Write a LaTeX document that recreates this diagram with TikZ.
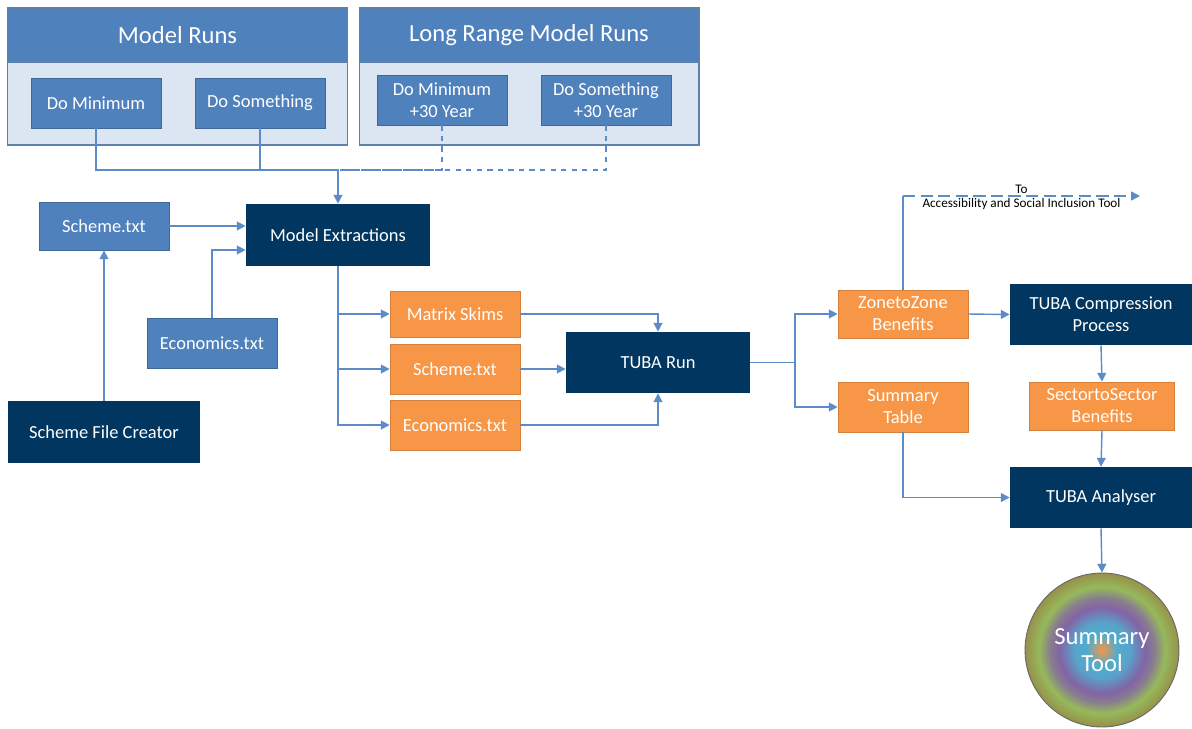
\documentclass[tikz,border=0pt]{standalone}
\usepackage{fontspec}
\setmainfont{Carlito}
\usetikzlibrary{arrows.meta,calc}

\definecolor{navy}{RGB}{0,54,96}
\definecolor{midblue}{RGB}{79,129,189}
\definecolor{paleblue}{RGB}{220,230,242}
\definecolor{lineblue}{RGB}{91,139,200}
\definecolor{boxorange}{RGB}{247,150,70}
\definecolor{ringcyan}{RGB}{80,172,205}
\definecolor{ringblue}{RGB}{100,150,200}
\definecolor{ringviolet}{RGB}{130,100,165}
\definecolor{ringgreen}{RGB}{150,185,90}
\definecolor{ringolive}{RGB}{150,145,75}

\pgfdeclareradialshading{toolshade}{\pgfpoint{0bp}{0bp}}{%
color(0bp)=(boxorange);
color(1.5bp)=(boxorange!70!ringcyan);
color(5bp)=(ringcyan);
color(9bp)=(ringcyan!60!ringblue);
color(14bp)=(ringviolet);
color(17bp)=(ringviolet!70!ringgreen);
color(20.5bp)=(ringgreen);
color(25bp)=(ringolive);
color(50bp)=(ringolive)}

\tikzset{
  boxtext/.style={align=center, text=white, inner sep=0pt,
    font=\fontsize{10.5}{12.5}\selectfont},
  bluebox/.style={boxtext, fill=midblue, draw=midblue!80!black, line width=0.4pt,
    minimum width=2.6cm, minimum height=1cm},
  navybox/.style={boxtext, fill=navy, minimum width=3.68cm, minimum height=1.24cm},
  orangebox/.style={boxtext, fill=boxorange, draw=boxorange!85!black, line width=0.4pt,
    minimum width=2.6cm, minimum height=0.96cm},
  groupbox/.style={fill=paleblue, draw=midblue!70!gray, line width=0.6pt,
    minimum width=6.8cm, minimum height=2.74cm, inner sep=0pt},
  grouphead/.style={fill=midblue, draw=midblue!70!gray, line width=0.6pt, text=white,
    minimum width=6.8cm, minimum height=1.08cm, inner sep=0pt,
    font=\fontsize{14}{16}\selectfont},
  flow/.style={draw=lineblue, line width=0.8pt},
  smalltext/.style={inner sep=1pt, font=\fontsize{7.5}{8.5}\selectfont}
}

\begin{document}
\begin{tikzpicture}[x=0.02cm, y=-0.02cm, >={Triangle[length=5pt,width=5pt]}]

\useasboundingbox (0,0) rectangle (1192,728);

% model runs groups
\node[groupbox] (mrgroup) at (177.5,76.5) {};
\node[grouphead] (mrhead) at (177.5,35) {Model Runs};
\node[groupbox] (lrgroup) at (529,76.5) {};
\node[grouphead] (lrhead) at (529,35) {Long Range Model Runs};

\node[bluebox] (dmin) at (96,103) {Do Minimum};
\node[bluebox] (dsom) at (260,103) {Do Something};
\node[bluebox] (dmin30) at (442,100) {Do Minimum\\+30 Year};
\node[bluebox] (dsom30) at (606,100) {Do Something\\+30 Year};

\coordinate (jn) at (338,170);

% extraction
\node[navybox] (mex) at (338,235) {Model Extractions};
\node[bluebox, minimum height=0.96cm] (sch1) at (104,226) {Scheme.txt};
\node[bluebox] (eco1) at (212,343) {Economics.txt};
\node[navybox, minimum width=3.86cm] (sfc) at (104,432) {Scheme File Creator};

% tuba inputs
\node[orangebox, minimum height=0.92cm] (mskim) at (455,314) {Matrix Skims};
\node[orangebox, minimum height=1cm] (sch2) at (455,369) {Scheme.txt};
\node[orangebox, minimum height=1cm] (eco2) at (455,425) {Economics.txt};
\node[navybox, minimum height=1.22cm] (tuba) at (658,362.5) {TUBA Run};

% outputs
\coordinate (sp) at (795,362.5);
\node[orangebox] (zone) at (903,314) {ZonetoZone\\Benefits};
\node[orangebox, minimum height=1cm] (stab) at (903,407) {Summary\\Table};
\node[navybox, minimum width=3.64cm, minimum height=1.22cm] (tcp) at (1101,314.5) {TUBA Compression\\Process};
\node[orangebox, minimum width=2.9cm] (sec) at (1102,406) {SectortoSector\\Benefits};
\node[navybox, minimum width=3.64cm, minimum height=1.22cm] (tan) at (1101,497.5) {TUBA Analyser};
\node[circle, minimum size=3.08cm, inner sep=0pt, shading=toolshade, draw=gray!80!black,
  line width=0.5pt, align=center, text=white, font=\fontsize{14}{15.4}\selectfont]
  (stool) at (1102,650) {Summary\\Tool};

\coordinate (asit) at (1140,196);

% connectors
\draw[flow] (dmin.south) |- (jn);
\draw[flow] (dsom.south) |- (jn);
\draw[flow, dashed] (dmin30.south) |- (jn);
\draw[flow, dashed] (dsom30.south) |- (jn);
\draw[flow,->] (jn) -- (mex.north);

\draw[flow,->] (sch1.east) -- (sch1.east -| mex.west);
\draw[flow,->] (eco1.north) |- ([yshift=-0.3cm]mex.west);
\draw[flow,->] (sfc.north) -- (sch1.south);

\draw[flow,->] (mex.south) |- (mskim.west);
\draw[flow,->] (mex.south) |- (sch2.west);
\draw[flow,->] (mex.south) |- (eco2.west);

\draw[flow,->] (mskim.east) -| (tuba.north);
\draw[flow,->] (sch2.east) -- (sch2.east -| tuba.west);
\draw[flow,->] (eco2.east) -| (tuba.south);

\draw[flow] (tuba.east) -- (sp);
\draw[flow,->] (sp) |- (zone.west);
\draw[flow,->] (sp) |- (stab.west);

\draw[flow] (zone.north) -- (zone.north |- asit);
\draw[flow, dash pattern=on 7pt off 3pt,->] (zone.north |- asit) -- (asit)
  node[smalltext, pos=0.5, above] (tolbl) {To}
  node[smalltext, pos=0.5, below] (asitlbl) {Accessibility and Social Inclusion Tool};

\draw[flow,->] (zone.east) -- (tcp.west);
\draw[flow,->] (tcp.south) -- (sec.north);
\draw[flow,->] (sec.south) -- (tan.north);
\draw[flow,->] (stab.south) |- (tan.west);
\draw[flow,->] (tan.south) -- (stool.north);

\end{tikzpicture}
\end{document}
